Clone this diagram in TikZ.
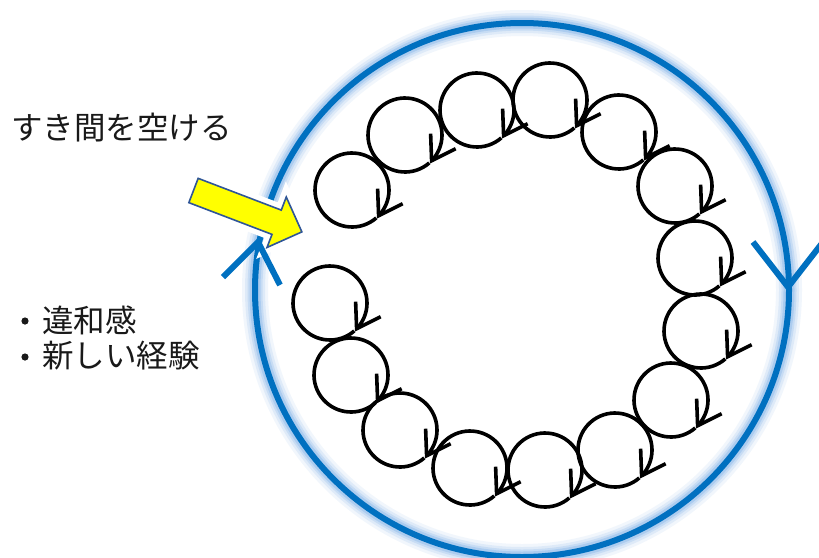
\documentclass[tikz,border=0pt]{standalone}
\usepackage{fontspec}
\newfontfamily\jp{Noto Sans CJK JP}
\definecolor{ringblue}{RGB}{0,112,192}
\definecolor{glowblue}{RGB}{140,185,235}
\definecolor{arrowedge}{RGB}{47,85,151}
\definecolor{arrowfill}{RGB}{255,255,0}
\tikzset{
  loopline/.style={line width=3.6pt, black},
  chevron/.style={ringblue, line width=6pt, line cap=butt, line join=miter},
  pics/loop/.style={code={
    \draw[loopline] (49:37) arc[start angle=-311, end angle=44, radius=37];
    \draw[loopline, line join=miter] (44:37) ++(-1,-27) -- (44:37) -- ++(24,-12);
  }},
  jptext/.style={inner sep=0pt, font=\jp\fontsize{31.5}{36}\selectfont, text=black!90}
}
\begin{document}
\begin{tikzpicture}[x=1pt,y=-1pt]
\useasboundingbox (0,0) rectangle (819,557);
\fill[white] (0,0) rectangle (819,557);
% big ring with glow
\foreach \w/\o in {26/0.12,20/0.18,15/0.28,11/0.45}{
  \draw[glowblue, line width=\w pt, opacity=\o] (522,290) circle[radius=267];
}
\draw[ringblue, line width=6pt] (522,290) circle[radius=267];
% white halo of the yellow arrow
\begin{scope}[shift={(193.5,190.5)}, rotate=-20.9]
  \path[draw=white, line width=12pt, line join=miter]
    (0,-13) -- (89,-13) -- (89,-27) -- (116,0) -- (89,27) -- (89,13) -- (0,13) -- cycle;
\end{scope}
% chevrons on the ring
\coordinate (capL) at (258,242);
\coordinate (capR) at (788,287);
\draw[chevron] (capL) ++(-35,35) -- (capL) -- ++(22,43);
\draw[chevron] (capR) ++(-35,-45) -- (capR) -- ++(35,-45);
% yellow block arrow
\begin{scope}[shift={(193.5,190.5)}, rotate=-20.9]
  \path[fill=arrowfill, draw=arrowedge, line width=1.6pt, line join=miter]
    (0,-13) -- (89,-13) -- (89,-27) -- (116,0) -- (89,27) -- (89,13) -- (0,13) -- cycle;
\end{scope}
% small loops
\foreach \p [count=\i] in {(352,190),(405,135),(477,110),(550,100),(619,132),(675,186),(695,258),(701,331),(671,400),(615,450),(545,470),(470,468),(400,430),(351,375),(330,303)}{
  \pic at \p {loop};
}
% texts
\node[jptext, anchor=west] (title) at (11,128) {すき間を空ける};
\fill[black!90] (25,321) circle[radius=3.6];
\fill[black!90] (25,357) circle[radius=3.6];
\node[jptext, anchor=west] (b1) at (42,320) {違和感};
\node[jptext, anchor=west] (b2) at (42,356) {新しい経験};
\end{tikzpicture}
\end{document}
